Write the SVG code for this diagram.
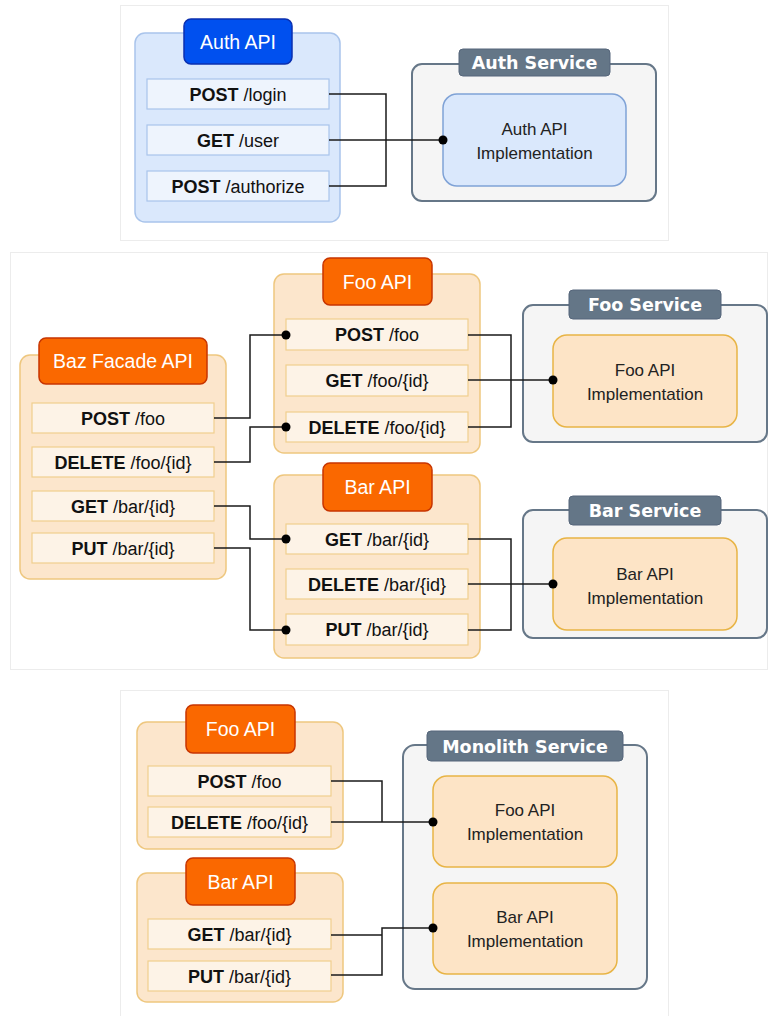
<svg xmlns="http://www.w3.org/2000/svg" width="768" height="1016" viewBox="0 0 768 1016">
<style>
text{font-family:"Liberation Sans",Arial,sans-serif;}
.panel{fill:#ffffff;stroke:#ececec;stroke-width:1;}
.bOuter{fill:#dae8fc;stroke:#a9c4eb;stroke-width:1.5;}
.bTitle{fill:#0050ef;stroke:#0a2fb0;stroke-width:1.5;}
.bRow{fill:#eef4fd;stroke:#a9c4eb;stroke-width:1.2;}
.bImpl{fill:#dae8fc;stroke:#7fa2d6;stroke-width:1.5;}
.oOuter{fill:#fce6cc;stroke:#eec77f;stroke-width:1.5;}
.oTitle{fill:#fa6800;stroke:#c73500;stroke-width:1.5;}
.oRow{fill:#fdf3e7;stroke:#f0cf8e;stroke-width:1.2;}
.oImpl{fill:#fde4c6;stroke:#e8b445;stroke-width:1.5;}
.sOuter{fill:#f5f5f5;stroke:#667788;stroke-width:2;}
.sTitle{fill:#647687;stroke:#55657a;stroke-width:1;}
.tTitle{fill:#ffffff;font-size:19.5px;text-anchor:middle;}
.tSvc{fill:#ffffff;font-family:"DejaVu Sans",Verdana,sans-serif;font-size:17.5px;font-weight:bold;text-anchor:middle;}
.tRow{fill:#111111;font-size:18px;text-anchor:middle;}
.tRow tspan.m{font-weight:bold;}
.tImpl{fill:#222222;font-size:17px;text-anchor:middle;}
.wire{fill:none;stroke:#1a1a1a;stroke-width:1.5;}
.dot{fill:#000000;}
</style>

<!-- panels -->
<rect class="panel" x="120.5" y="5.5" width="548" height="235"/>
<rect class="panel" x="10.5" y="252.5" width="757" height="417"/>
<rect class="panel" x="120.5" y="690.5" width="548" height="330"/>

<!-- ===== Top panel ===== -->
<g id="auth-api">
  <rect class="bOuter" x="135" y="33" width="205" height="189" rx="10"/>
  <rect class="bTitle" x="184" y="19" width="108" height="45" rx="7"/>
  <text class="tTitle" x="238" y="48.5">Auth API</text>
  <rect class="bRow" x="147" y="79" width="182" height="30"/>
  <text class="tRow" x="238" y="100.5"><tspan class="m">POST</tspan> /login</text>
  <rect class="bRow" x="147" y="125" width="182" height="30"/>
  <text class="tRow" x="238" y="146.5"><tspan class="m">GET</tspan> /user</text>
  <rect class="bRow" x="147" y="171" width="182" height="30"/>
  <text class="tRow" x="238" y="192.5"><tspan class="m">POST</tspan> /authorize</text>
</g>

<g id="auth-service">
  <rect class="sOuter" x="412" y="64" width="244" height="137" rx="10"/>
  <rect class="sTitle" x="459" y="49" width="151" height="27" rx="4"/>
  <text class="tSvc" x="534.5" y="69">Auth Service</text>
  <rect class="bImpl" x="443" y="94" width="183" height="92" rx="14"/>
  <text class="tImpl" x="534.5" y="134.5">Auth API</text>
  <text class="tImpl" x="534.5" y="158.5">Implementation</text>
</g>

<!-- ===== Middle panel ===== -->
<g id="baz-facade-api">
  <rect class="oOuter" x="20" y="355" width="206" height="224" rx="10"/>
  <rect class="oTitle" x="39" y="338" width="168" height="46" rx="7"/>
  <text class="tTitle" x="123" y="368">Baz Facade API</text>
  <rect class="oRow" x="32" y="403" width="182" height="30"/>
  <text class="tRow" x="123" y="424.5"><tspan class="m">POST</tspan> /foo</text>
  <rect class="oRow" x="32" y="447" width="182" height="30"/>
  <text class="tRow" x="123" y="468.5"><tspan class="m">DELETE</tspan> /foo/{id}</text>
  <rect class="oRow" x="32" y="491" width="182" height="30"/>
  <text class="tRow" x="123" y="512.5"><tspan class="m">GET</tspan> /bar/{id}</text>
  <rect class="oRow" x="32" y="533" width="182" height="30"/>
  <text class="tRow" x="123" y="554.5"><tspan class="m">PUT</tspan> /bar/{id}</text>
</g>

<g id="foo-api">
  <rect class="oOuter" x="274" y="274" width="206" height="179" rx="10"/>
  <rect class="oTitle" x="323" y="258" width="109" height="47" rx="7"/>
  <text class="tTitle" x="377.5" y="288.5">Foo API</text>
  <rect class="oRow" x="286" y="319" width="182" height="31"/>
  <text class="tRow" x="377" y="341"><tspan class="m">POST</tspan> /foo</text>
  <rect class="oRow" x="286" y="365" width="182" height="31"/>
  <text class="tRow" x="377" y="387"><tspan class="m">GET</tspan> /foo/{id}</text>
  <rect class="oRow" x="286" y="412" width="182" height="30"/>
  <text class="tRow" x="377" y="433.5"><tspan class="m">DELETE</tspan> /foo/{id}</text>
</g>

<g id="bar-api">
  <rect class="oOuter" x="274" y="475" width="206" height="183" rx="10"/>
  <rect class="oTitle" x="323" y="463" width="109" height="48" rx="7"/>
  <text class="tTitle" x="377.5" y="494">Bar API</text>
  <rect class="oRow" x="286" y="524" width="182" height="30"/>
  <text class="tRow" x="377" y="545.5"><tspan class="m">GET</tspan> /bar/{id}</text>
  <rect class="oRow" x="286" y="569" width="182" height="30"/>
  <text class="tRow" x="377" y="590.5"><tspan class="m">DELETE</tspan> /bar/{id}</text>
  <rect class="oRow" x="286" y="614" width="182" height="31"/>
  <text class="tRow" x="377" y="636"><tspan class="m">PUT</tspan> /bar/{id}</text>
</g>

<g id="foo-service">
  <rect class="sOuter" x="523" y="305" width="244" height="137" rx="10"/>
  <rect class="sTitle" x="569" y="290" width="152" height="29" rx="4"/>
  <text class="tSvc" x="645" y="311">Foo Service</text>
  <rect class="oImpl" x="553" y="335" width="184" height="92" rx="14"/>
  <text class="tImpl" x="645" y="375.5">Foo API</text>
  <text class="tImpl" x="645" y="399.5">Implementation</text>
</g>

<g id="bar-service">
  <rect class="sOuter" x="523" y="510" width="244" height="128" rx="10"/>
  <rect class="sTitle" x="569" y="496" width="152" height="29" rx="4"/>
  <text class="tSvc" x="645" y="517">Bar Service</text>
  <rect class="oImpl" x="553" y="538" width="184" height="92" rx="14"/>
  <text class="tImpl" x="645" y="579.5">Bar API</text>
  <text class="tImpl" x="645" y="603.5">Implementation</text>
</g>

<!-- ===== Bottom panel ===== -->
<g id="mono-foo-api">
  <rect class="oOuter" x="137" y="722" width="206" height="127" rx="10"/>
  <rect class="oTitle" x="186" y="705" width="109" height="48" rx="7"/>
  <text class="tTitle" x="240.5" y="736">Foo API</text>
  <rect class="oRow" x="148" y="766" width="183" height="30"/>
  <text class="tRow" x="239.5" y="787.5"><tspan class="m">POST</tspan> /foo</text>
  <rect class="oRow" x="148" y="807" width="183" height="30"/>
  <text class="tRow" x="239.5" y="828.5"><tspan class="m">DELETE</tspan> /foo/{id}</text>
</g>

<g id="mono-bar-api">
  <rect class="oOuter" x="137" y="873" width="206" height="129" rx="10"/>
  <rect class="oTitle" x="186" y="858" width="109" height="47" rx="7"/>
  <text class="tTitle" x="240.5" y="888.5">Bar API</text>
  <rect class="oRow" x="148" y="919" width="183" height="30"/>
  <text class="tRow" x="239.5" y="940.5"><tspan class="m">GET</tspan> /bar/{id}</text>
  <rect class="oRow" x="148" y="961" width="183" height="30"/>
  <text class="tRow" x="239.5" y="982.5"><tspan class="m">PUT</tspan> /bar/{id}</text>
</g>

<g id="monolith-service">
  <rect class="sOuter" x="403" y="745" width="244" height="244" rx="12"/>
  <rect class="sTitle" x="427" y="731" width="196" height="30" rx="4"/>
  <text class="tSvc" x="525" y="752.5">Monolith Service</text>
  <rect class="oImpl" x="433" y="776" width="184" height="91" rx="14"/>
  <text class="tImpl" x="525" y="815.5">Foo API</text>
  <text class="tImpl" x="525" y="839.5">Implementation</text>
  <rect class="oImpl" x="433" y="883" width="184" height="91" rx="14"/>
  <text class="tImpl" x="525" y="922.5">Bar API</text>
  <text class="tImpl" x="525" y="946.5">Implementation</text>
</g>

<!-- ===== Connectors ===== -->
<g id="connectors">
  <!-- top -->
  <path class="wire" d="M329,94 H386 V186 H329"/>
  <path class="wire" d="M329,140 H443"/>
  <circle class="dot" cx="443" cy="140" r="4.5"/>
  <!-- Baz facade to Foo/Bar -->
  <path class="wire" d="M214,418 H250 V335 H286"/>
  <circle class="dot" cx="286" cy="335" r="4.5"/>
  <path class="wire" d="M214,462 H250 V427 H286"/>
  <circle class="dot" cx="286" cy="427" r="4.5"/>
  <path class="wire" d="M214,506 H250 V539 H286"/>
  <circle class="dot" cx="286" cy="539" r="4.5"/>
  <path class="wire" d="M214,548 H250 V630 H286"/>
  <circle class="dot" cx="286" cy="630" r="4.5"/>
  <!-- Foo API to Foo Service -->
  <path class="wire" d="M468,335 H511 V427 H468"/>
  <path class="wire" d="M468,380 H553"/>
  <circle class="dot" cx="553" cy="380" r="4.5"/>
  <!-- Bar API to Bar Service -->
  <path class="wire" d="M468,539 H511 V630 H468"/>
  <path class="wire" d="M468,584 H553"/>
  <circle class="dot" cx="553" cy="584" r="4.5"/>
  <!-- bottom -->
  <path class="wire" d="M331,781 H382 V822"/>
  <path class="wire" d="M331,822 H433"/>
  <circle class="dot" cx="433" cy="822" r="4.5"/>
  <path class="wire" d="M331,975 H382 V928 H433"/>
  <path class="wire" d="M331,935 H382"/>
  <circle class="dot" cx="433" cy="928" r="4.5"/>
</g>
</svg>
